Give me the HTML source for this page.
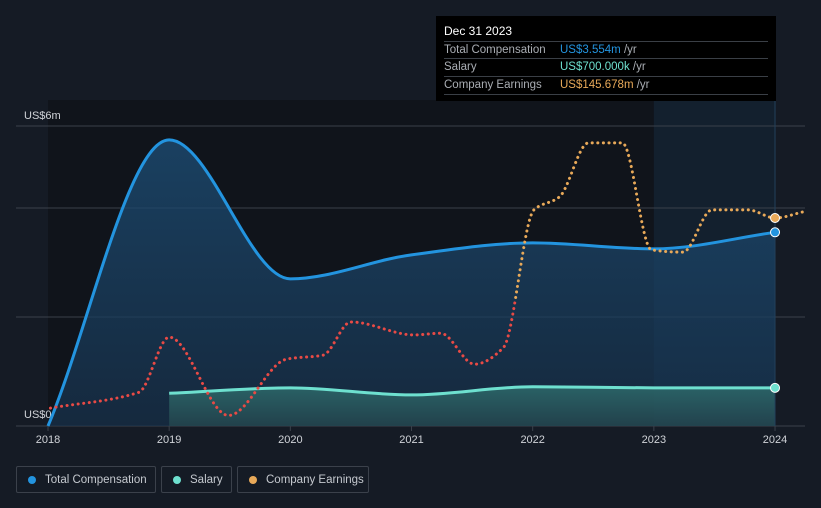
<!DOCTYPE html>
<html><head><meta charset="utf-8">
<style>
html,body{margin:0;padding:0;background:#151b25;width:821px;height:508px;overflow:hidden;font-family:"Liberation Sans",sans-serif;}
svg{position:absolute;left:0;top:0}
#tip{position:absolute;left:436px;top:16px;width:340px;height:85px;background:#000;color:#fff;font-size:11.5px}
#tip .t{position:absolute;left:8px;top:8px;font-size:12px}
#tip .r{position:absolute;left:8px;width:324px;height:17px;border-top:1px solid #3a3f46;line-height:17px;color:#a9adb3;white-space:nowrap}
#tip .v{position:absolute;left:116px}
#legend{position:absolute;top:466px;left:16px;display:flex;gap:5px}
.lg{flex-shrink:0;white-space:nowrap;height:27px;border:1px solid #3b414b;border-radius:2px;color:#c5c9cf;font-size:11.5px;line-height:26px;padding:0 0 0 11px;display:flex;align-items:center;box-sizing:border-box}
.lg i{flex-shrink:0;width:8px;height:8px;border-radius:50%;display:inline-block;margin-right:9px}
</style></head><body>
<svg id="chart" width="821" height="508"></svg>
<div id="tip">
<div class="t">Dec 31 2023</div>
<div class="r" style="top:25px">Total Compensation<span class="v" style="color:#2394df">US$3.554m <span style="color:#a9adb3">/yr</span></span></div>
<div class="r" style="top:42px">Salary<span class="v" style="color:#6ee0cf">US$700.000k <span style="color:#a9adb3">/yr</span></span></div>
<div class="r" style="top:60px;border-bottom:1px solid #3a3f46">Company Earnings<span class="v" style="color:#e8a959">US$145.678m <span style="color:#a9adb3">/yr</span></span></div>
</div>
<div id="legend">
<div class="lg" style="width:140px"><i style="background:#2394df"></i>Total Compensation</div>
<div class="lg" style="width:71px"><i style="background:#6ee0cf"></i>Salary</div>
<div class="lg" style="width:132px"><i style="background:#e8a959"></i>Company Earnings</div>
</div>
<script>
const compYears=[2018,2019,2020,2021,2022,2023,2024];
const compValues=[0,5.25,2.7,3.14,3.36,3.25,3.554];
const salYears=[2019,2020,2021,2022,2023,2024];
const salValues=[0.6,0.7,0.57,0.72,0.7,0.7];
const earnYears=[2018.02,2018.75,2019.0,2019.49,2019.97,2020.27,2020.5,2021.02,2021.24,2021.52,2021.76,2022.01,2022.22,2022.46,2022.74,2022.98,2023.24,2023.48,2023.78,2024.0,2024.24];
const earnValues=[-192,-164,-66,-205,-105,-98,-39,-62,-59,-114,-84,160,183,279,279,89,85,160,160,145.678,157];
const yTickLabels=["US$0","US$6m"];
const xTickLabels=["2018","2019","2020","2021","2022","2023","2024"];
const NS="http://www.w3.org/2000/svg";
const svg=document.getElementById('chart');
const X=y=>48+(y-2018)*121.17;
const Y=v=>426-v*54.5;
const EY=v=>300-v*0.563;
function el(t,a,p){const e=document.createElementNS(NS,t);for(const k in a)e.setAttribute(k,a[k]);(p||svg).appendChild(e);return e;}
function mono(pts){const n=pts.length;if(n<2)return'';const d=[],m=[];for(let i=0;i<n-1;i++)d.push((pts[i+1][1]-pts[i][1])/(pts[i+1][0]-pts[i][0]));m[0]=d[0];m[n-1]=d[n-2];for(let i=1;i<n-1;i++){m[i]=d[i-1]*d[i]<=0?0:2/(1/d[i-1]+1/d[i]);}
let s='M'+pts[0][0]+','+pts[0][1];for(let i=0;i<n-1;i++){const h=pts[i+1][0]-pts[i][0];s+=' C'+(pts[i][0]+h/3)+','+(pts[i][1]+m[i]*h/3)+' '+(pts[i+1][0]-h/3)+','+(pts[i+1][1]-m[i+1]*h/3)+' '+pts[i+1][0]+','+pts[i+1][1];}return s;}
const defs=el('defs',{});
const g1=el('linearGradient',{id:'gc',x1:0,y1:0,x2:0,y2:1},defs);
el('stop',{offset:'0','stop-color':'#1d4f78','stop-opacity':'0.75'},g1);el('stop',{offset:'1','stop-color':'#17324d','stop-opacity':'0.7'},g1);
const g2=el('linearGradient',{id:'gs',x1:0,y1:0,x2:0,y2:1},defs);
el('stop',{offset:'0','stop-color':'#2f6f6e','stop-opacity':'0.8'},g2);el('stop',{offset:'1','stop-color':'#25474f','stop-opacity':'0.8'},g2);
const cp=el('clipPath',{id:'pos'},defs);el('rect',{x:0,y:0,width:821,height:EY(0)},cp);
const cn=el('clipPath',{id:'neg'},defs);el('rect',{x:0,y:EY(0),width:821,height:508},cn);
let r=el('rect',{x:48,y:100,width:727,height:326,fill:'#10141b'});
r=el('rect',{x:X(2023),y:100,width:X(2024)-X(2023),height:326,fill:'#13202e'});
[126,208,317,426].forEach(y=>{const l=el('line',{x1:16,x2:805,y1:y,y2:y,stroke:'#3a404a','stroke-width':1});});
xTickLabels.forEach((t,i)=>{const x=X(+t);el('line',{x1:x,x2:x,y1:426,y2:431,stroke:'#3a404a'});const tx=el('text',{x:x,y:443,fill:'#d0d3d8','font-size':11,'text-anchor':'middle'});tx.textContent=t;});
let ty=el('text',{x:24,y:418,fill:'#d0d3d8','font-size':11});ty.textContent=yTickLabels[0];
ty=el('text',{x:24,y:119,fill:'#d0d3d8','font-size':11});ty.textContent=yTickLabels[1];
const cpts=compYears.map((y,i)=>[X(y),Y(compValues[i])]);
const cPath=mono(cpts);
let a=el('path',{d:cPath+' L'+X(2024)+',426 L'+X(2018)+',426 Z',fill:'url(#gc)'});
const spts=salYears.map((y,i)=>[X(y),Y(salValues[i])]);
const sPath=mono(spts);
a=el('path',{d:sPath+' L'+X(2024)+',426 L'+X(2019)+',426 Z',fill:'url(#gs)'});
el('line',{x1:X(2024),x2:X(2024),y1:100,y2:426,stroke:'#23415c','stroke-width':1});
a=el('path',{d:cPath,fill:'none',stroke:'#2394df','stroke-width':3});
a=el('path',{d:sPath,fill:'none',stroke:'#6ee0cf','stroke-width':3});
const epts=earnYears.map((y,i)=>[X(y),EY(earnValues[i])]);
const ePath=mono(epts);
a=el('path',{d:ePath,fill:'none',stroke:'#e8a959','stroke-width':3,'stroke-dasharray':'0.1 5.5','stroke-linecap':'round','clip-path':'url(#pos)'});
a=el('path',{d:ePath,fill:'none',stroke:'#e84a45','stroke-width':3,'stroke-dasharray':'0.1 5.5','stroke-linecap':'round','clip-path':'url(#neg)'});
let d=el('circle',{cx:X(2024),cy:Y(compValues[6]),r:4.5,fill:'#2394df',stroke:'#fff','stroke-width':1});
d=el('circle',{cx:X(2024),cy:Y(salValues[5]),r:4.5,fill:'#6ee0cf',stroke:'#fff','stroke-width':1});
d=el('circle',{cx:X(2024),cy:EY(earnValues[19]),r:4.5,fill:'#e8a959',stroke:'#fff','stroke-width':1});
</script>
</body></html>
